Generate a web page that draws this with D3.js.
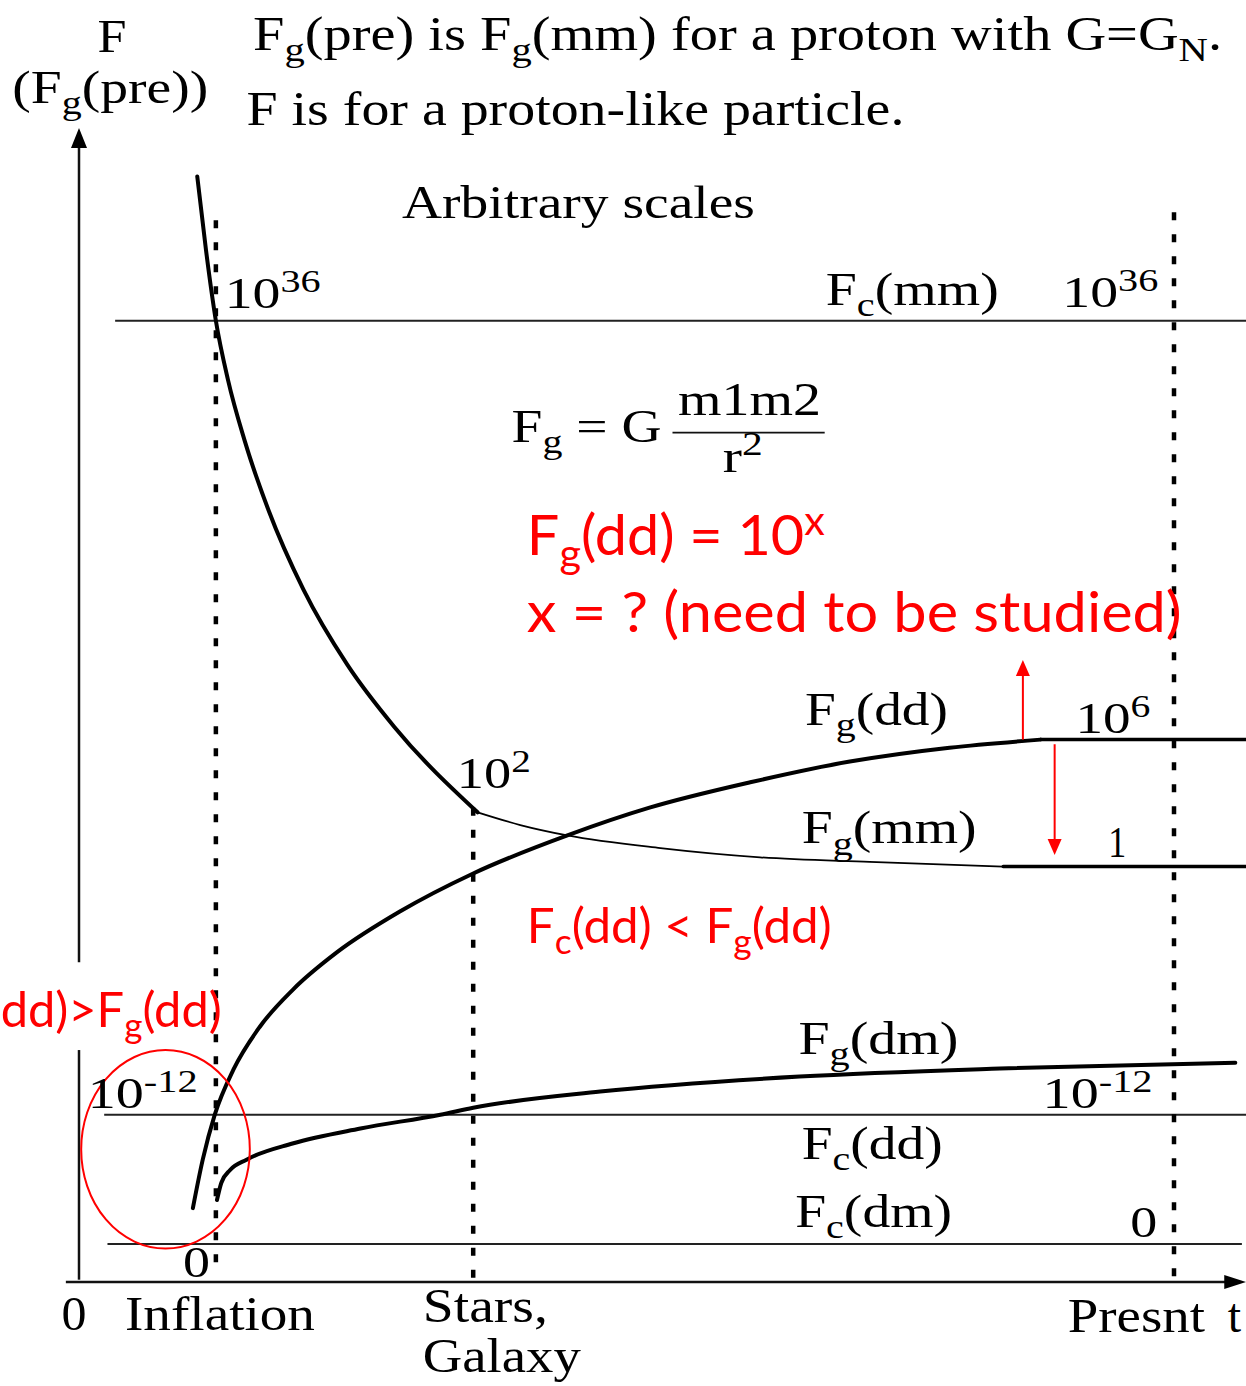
<!DOCTYPE html>
<html>
<head>
<meta charset="utf-8">
<script src="https://cdn.jsdelivr.net/npm/d3@7"></script>
<style>
  body { margin: 0; background: #fff; }
  svg { display: block; }
  text { white-space: pre; }
</style>
</head>
<body>
<div id="chart"></div>
<script>
// Schematic: arbitrary time (x) and arbitrary level (y) units

// Fg(pre) -> Fg(mm) : steep thick part until star formation
var preT = [1.08, 1.16, 1.25, 1.36, 1.51, 1.73, 2.05, 2.45, 2.88, 3.64];
var preV = [9.58, 8.94, 8.33, 7.82, 7.30, 6.69, 6.00, 5.35, 4.81, 4.07];
// Fg(mm) : thin tail after stars/galaxy
var mmT = [3.64, 4.03, 4.46, 5.31, 6.22, 7.22, 8.44];
var mmV = [4.07, 3.96, 3.87, 3.76, 3.68, 3.64, 3.60];
var mmFlat = [8.44, 10.66], mmLevel = 3.60;
// Fg(dd)
var ddT = [1.04, 1.13, 1.24, 1.41, 1.65, 1.95, 2.36, 2.93, 3.60, 4.46, 5.21, 6.13, 7.04, 7.95, 8.78];
var ddV = [0.64, 1.06, 1.45, 1.84, 2.21, 2.53, 2.86, 3.21, 3.54, 3.87, 4.11, 4.33, 4.51, 4.63, 4.70];
var ddFlat = [8.78, 10.66], ddLevel = 4.70;
// Fg(dm)
var dmT = [1.26, 1.30, 1.38, 1.53, 1.95, 2.57, 3.30, 3.60, 4.76, 6.58, 8.41, 10.56];
var dmV = [0.71, 0.86, 0.97, 1.06, 1.20, 1.33, 1.45, 1.51, 1.65, 1.78, 1.85, 1.90];

// constant levels Fc(mm), Fc(dd), Fc(dm)
var levelNames = ["Fc(mm)", "Fc(dd)", "Fc(dm)"];
var levelValues = [8.33, 1.45, 0.33];
var levelStart = [0.33, 0.23, 0.26];
var levelEnd = [10.66, 10.66, 10.62];

// epochs (dotted verticals)
var epochNames = ["Inflation", "Stars, Galaxy", "Presnt"];
var epochT = [1.25, 3.60, 10];
var epochTop = [9.20, 4.11, 9.27];
var epochBottom = [0.06, 0.02, 0];

// red arrows (Fg(dd) may move up or down)
var arrowT = [8.62, 8.91];
var arrowFrom = [4.70, 4.66];
var arrowTo = [5.39, 3.70];

var width = 1246, height = 1386;

var x = d3.scaleLinear().domain([0, 10]).range([79, 1174]);
var y = d3.scaleLinear().domain([0, 10]).range([1282, 128]);

var svg = d3.select("#chart").append("svg")
    .attr("width", width)
    .attr("height", height);

var line = d3.line()
    .x(function(d) { return x(d[0]); })
    .y(function(d) { return y(d[1]); })
    .curve(d3.curveMonotoneX);
var straight = d3.line()
    .x(function(d) { return x(d[0]); })
    .y(function(d) { return y(d[1]); });

function pairs(ts, vs) { return ts.map(function(t, i) { return [t, vs[i]]; }); }

// triangle head, tip at (px,py)
function head(px, py, dir, len, hw) {
  if (dir == "up") return "M" + px + "," + py + "L" + (px - hw) + "," + (py + len) + "L" + (px + hw) + "," + (py + len) + "Z";
  if (dir == "down") return "M" + px + "," + py + "L" + (px - hw) + "," + (py - len) + "L" + (px + hw) + "," + (py - len) + "Z";
  return "M" + px + "," + py + "L" + (px - len) + "," + (py - hw) + "L" + (px - len) + "," + (py + hw) + "Z";
}

// axes
svg.append("path").attr("d", straight([[0, 0.02], [0, 2.01]]))
    .attr("stroke", "#111").attr("stroke-width", 2.5).attr("fill", "none");
svg.append("path").attr("d", straight([[0, 2.77], [0, 9.85]]))
    .attr("stroke", "#111").attr("stroke-width", 2.5).attr("fill", "none");
svg.append("path").attr("d", head(x(0), y(10), "up", 20, 8)).attr("fill", "#000");
svg.append("path").attr("d", straight([[-0.12, 0], [10.5, 0]]))
    .attr("stroke", "#111").attr("stroke-width", 2.5).attr("fill", "none");
svg.append("path").attr("d", head(x(10.66), y(0), "right", 22, 7)).attr("fill", "#000");

// constant levels
svg.selectAll(".level").data(levelValues).enter().append("path")
    .attr("class", "level")
    .attr("d", function(v, i) { return straight([[levelStart[i], v], [levelEnd[i], v]]); })
    .attr("stroke", "#222").attr("stroke-width", 2).attr("fill", "none");

// epoch dotted lines
svg.selectAll(".epoch").data(epochT).enter().append("path")
    .attr("class", "epoch")
    .attr("d", function(t, i) { return straight([[t, epochTop[i]], [t, epochBottom[i]]]); })
    .attr("stroke", "#000").attr("stroke-width", 4.5)
    .attr("stroke-dasharray", "8 14").attr("fill", "none");

// curves
function curve(ts, vs, w) {
  svg.append("path").attr("d", line(pairs(ts, vs)))
      .attr("stroke", "#000").attr("stroke-width", w)
      .attr("fill", "none").attr("stroke-linecap", "round");
}
curve(preT, preV, 4);
curve(mmT, mmV, 1.8);
curve(ddT, ddV, 4);
curve(dmT, dmV, 4);
curve(mmFlat, [mmLevel, mmLevel], 3.5);
curve(ddFlat, [ddLevel, ddLevel], 3.5);

// fraction bar of the formula
svg.append("path").attr("d", straight([[5.42, 7.36], [6.81, 7.36]]))
    .attr("stroke", "#111").attr("stroke-width", 1.6);

// red arrows
arrowT.forEach(function(t, i) {
  var up = arrowTo[i] > arrowFrom[i];
  var tip = y(arrowTo[i]);
  var base = up ? tip + 16 : tip - 16;
  svg.append("line")
      .attr("x1", x(t)).attr("x2", x(t))
      .attr("y1", y(arrowFrom[i])).attr("y2", base)
      .attr("stroke", "#f00").attr("stroke-width", 2);
  svg.append("path").attr("d", head(x(t), tip, up ? "up" : "down", 16, 7)).attr("fill", "#f00");
});

// red ellipse around the start
svg.append("ellipse")
    .attr("cx", x(0.79)).attr("cy", y(1.15))
    .attr("rx", x(0.79 + 0.77) - x(0.79)).attr("ry", y(1.15) - y(1.15 + 0.86))
    .attr("fill", "none").attr("stroke", "#f00").attr("stroke-width", 2);

// labels: _{..} subscript, ^{..} superscript
var serif = "'Liberation Serif', 'Times New Roman', serif";
var sans = "Lato, 'Open Sans', sans-serif";
var labels = [
  {text: "F", t: 0.17, v: 10.66, size: 46, w: 29},
  {text: "(F_{g}(pre))", t: -0.61, v: 10.22, size: 46, w: 196},
  {text: "F_{g}(pre) is F_{g}(mm) for a proton with G=G_{N}.", t: 1.59, v: 10.68, size: 48, w: 969},
  {text: "F is for a proton-like particle.", t: 1.53, v: 10.03, size: 48, w: 658},
  {text: "Arbitrary scales", t: 2.95, v: 9.22, size: 46, w: 353},
  {text: "10^{36}", t: 1.33, v: 8.44, size: 44, w: 96},
  {text: "F_{c}(mm)", t: 6.82, v: 8.47, size: 46, w: 173},
  {text: "10^{36}", t: 8.98, v: 8.45, size: 44, w: 96},
  {text: "F_{g} = G", t: 3.95, v: 7.28, size: 46, w: 150},
  {text: "m1m2", t: 5.47, v: 7.51, size: 46, w: 143},
  {text: "r^{2}", t: 5.88, v: 7.02, size: 46, w: 40},
  {text: "F_{g}(dd)", t: 6.63, v: 4.83, size: 46, w: 143},
  {text: "10^{6}", t: 9.10, v: 4.76, size: 44, w: 75},
  {text: "10^{2}", t: 3.45, v: 4.28, size: 44, w: 74},
  {text: "F_{g}(mm)", t: 6.60, v: 3.80, size: 46, w: 175},
  {text: "1", t: 9.40, v: 3.68, size: 44, w: 18},
  {text: "F_{g}(dm)", t: 6.57, v: 1.98, size: 46, w: 160},
  {text: "10^{-12}", t: 8.80, v: 1.51, size: 44, w: 110},
  {text: "10^{-12}", t: 0.08, v: 1.51, size: 44, w: 110},
  {text: "F_{c}(dd)", t: 6.60, v: 1.07, size: 46, w: 141},
  {text: "F_{c}(dm)", t: 6.54, v: 0.48, size: 46, w: 157},
  {text: "0", t: 9.60, v: 0.39, size: 44, w: 27},
  {text: "0", t: 0.95, v: 0.04, size: 44, w: 27},
  {text: "0", t: -0.16, v: -0.42, size: 48, w: 25},
  {text: "Inflation", t: 0.42, v: -0.42, size: 48, w: 190},
  {text: "Stars,", t: 3.14, v: -0.35, size: 48, w: 125},
  {text: "Galaxy", t: 3.14, v: -0.78, size: 48, w: 158},
  {text: "Presnt", t: 9.03, v: -0.43, size: 48, w: 138},
  {text: "t", t: 10.49, v: -0.43, size: 48, w: 14},
  {text: "F_{g}(dd) = 10^{x}", t: 4.09, v: 6.30, size: 56, w: 298, red: true},
  {text: "x = ? (need to be studied)", t: 4.09, v: 5.63, size: 56, w: 655, red: true},
  {text: "F_{c}(dd) < F_{g}(dd)", t: 4.09, v: 2.94, size: 48, w: 305, red: true},
  // only the part that shows inside the picture
  {text: "dd)>F_{g}(dd)", t: -0.715, v: 2.21, size: 48, w: 221, red: true}
];

labels.forEach(function(l) {
  var txt = svg.append("text")
      .attr("font-family", l.red ? sans : serif)
      .attr("font-size", l.size)
      .attr("fill", l.red ? "#f00" : "#000");
  var parts = l.text.split(/([_^]\{[^}]*\})/).filter(function(s) { return s.length; });
  var shift = 0;
  parts.forEach(function(p) {
    var kind = p[0] == "_" ? "sub" : (p[0] == "^" ? "sup" : "");
    var s = kind ? p.slice(2, -1) : p;
    var target = kind == "sub" ? l.size * 0.24 : (kind == "sup" ? -l.size * 0.36 : 0);
    txt.append("tspan")
        .attr("dy", target - shift)
        .attr("font-size", kind ? l.size * 0.72 : l.size)
        .text(s);
    shift = target;
  });
  var bb = txt.node().getBBox();
  var k = l.w / bb.width;
  // bbox.x is the glyph side bearing, shift it so the ink starts at the anchor
  txt.attr("transform", "translate(" + (x(l.t) - bb.x * k) + "," + y(l.v) + ") scale(" + k + ",1)");
});
</script>
</body>
</html>
